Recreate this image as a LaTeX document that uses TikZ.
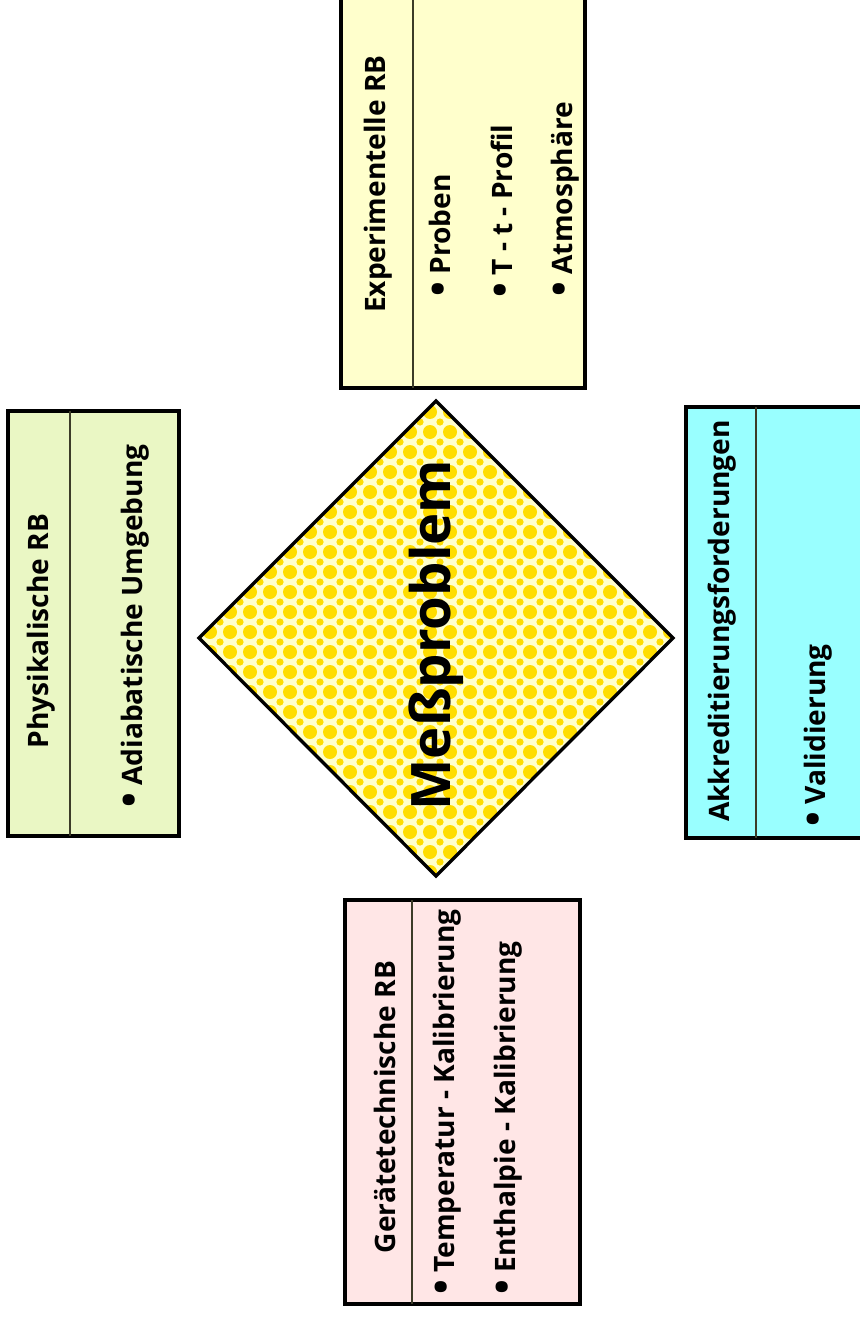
\documentclass[tikz,border=0pt]{standalone}
\usepackage{fontspec}
\setmainfont{Open Sans}
\usetikzlibrary{positioning}
\definecolor{farbgelb}{RGB}{255,255,204}
\definecolor{farbgruen}{RGB}{234,247,196}
\definecolor{farbcyan}{RGB}{153,255,255}
\definecolor{farbrosa}{RGB}{255,230,230}
\definecolor{farbpunkt}{RGB}{255,221,0}
\definecolor{farblinie}{RGB}{60,60,40}
\newcommand{\punkt}{\raisebox{-0.06em}{\scalebox{1.4}{\textbullet}}\ }

\begin{document}
\begin{tikzpicture}[
  x=0.02cm, y=-0.02cm,
  kasten/.style={draw=black, line width=1.8pt},
  trenn/.style={draw=farblinie, line width=0.6pt},
  titel/.style={rotate=90, inner sep=0pt, font=\bfseries\fontsize{16}{18}\selectfont},
  eintrag/.style={rotate=90, anchor=west, inner sep=0pt, font=\bfseries\fontsize{16}{18}\selectfont},
  raute/.style={draw=black, line width=1.9pt, line join=miter}
]
  \useasboundingbox (0,0) rectangle (859,1317);

  % Experimentelle RB
  \draw[kasten, fill=farbgelb] (341,-10) rectangle (585,388);
  \draw[trenn] (413,-10) -- (413,388);
  \node[titel] (titelexp) at (378,184) {Experimentelle RB};
  \node[eintrag] (proben) at (441,297) {\punkt Proben};
  \node[eintrag] (profil) at (503,298) {\punkt T - t - Profil};
  \node[eintrag] (atmos) at (565,297) {\punkt Atmosphäre};

  % Physikalische RB
  \draw[kasten, fill=farbgruen] (8,411) rectangle (179,836);
  \draw[trenn] (70,411) -- (70,836);
  \node[titel] (titelphys) at (41,631) {Physikalische RB};
  \node[eintrag] (adiab) at (135,808) {\punkt Adiabatische Umgebung};

  % Akkreditierung
  \draw[kasten, fill=farbcyan] (686,407) rectangle (880,838);
  \draw[trenn] (756,407) -- (756,838);
  \node[titel] (titelakk) at (722,621) {Akkreditierungsforderungen};
  \node[eintrag] (valid) at (818,827) {\punkt Validierung};

  % Geraetetechnische RB
  \draw[kasten, fill=farbrosa] (345,900) rectangle (580,1304);
  \draw[trenn] (412,900) -- (412,1304);
  \node[titel] (titelgeraet) at (385,1107) {Gerätetechnische RB};
  \node[eintrag] (temp) at (447,1295) {\punkt Temperatur - Kalibrierung};
  \node[eintrag] (enth) at (508,1295) {\punkt Enthalpie - Kalibrierung};

  % Raute mit Punktmuster
  \coordinate (rautelinks) at (199,638);
  \coordinate (rauteoben) at (436,401);
  \coordinate (rauterechts) at (673,638);
  \coordinate (rauteunten) at (436,876);
  \begin{scope}
    \clip (rautelinks) -- (rauteoben) -- (rauterechts) -- (rauteunten) -- cycle;
    \fill[farbgelb] (190,392) rectangle (680,885);
    \foreach \i in {0,...,24}
      \foreach \j in {0,...,24} {
        \fill[farbpunkt] (190+20*\i,392+20*\j) circle[radius=7];
        \fill[farbpunkt] (200+20*\i,402+20*\j) circle[radius=3.6];
      }
  \end{scope}
  \draw[raute] (rautelinks) -- (rauteoben) -- (rauterechts) -- (rauteunten) -- cycle;
  \node[rotate=90, inner sep=0pt, font=\bfseries\fontsize{31}{36}\selectfont] (mess) at (436,635) {Meßproblem};
\end{tikzpicture}
\end{document}
